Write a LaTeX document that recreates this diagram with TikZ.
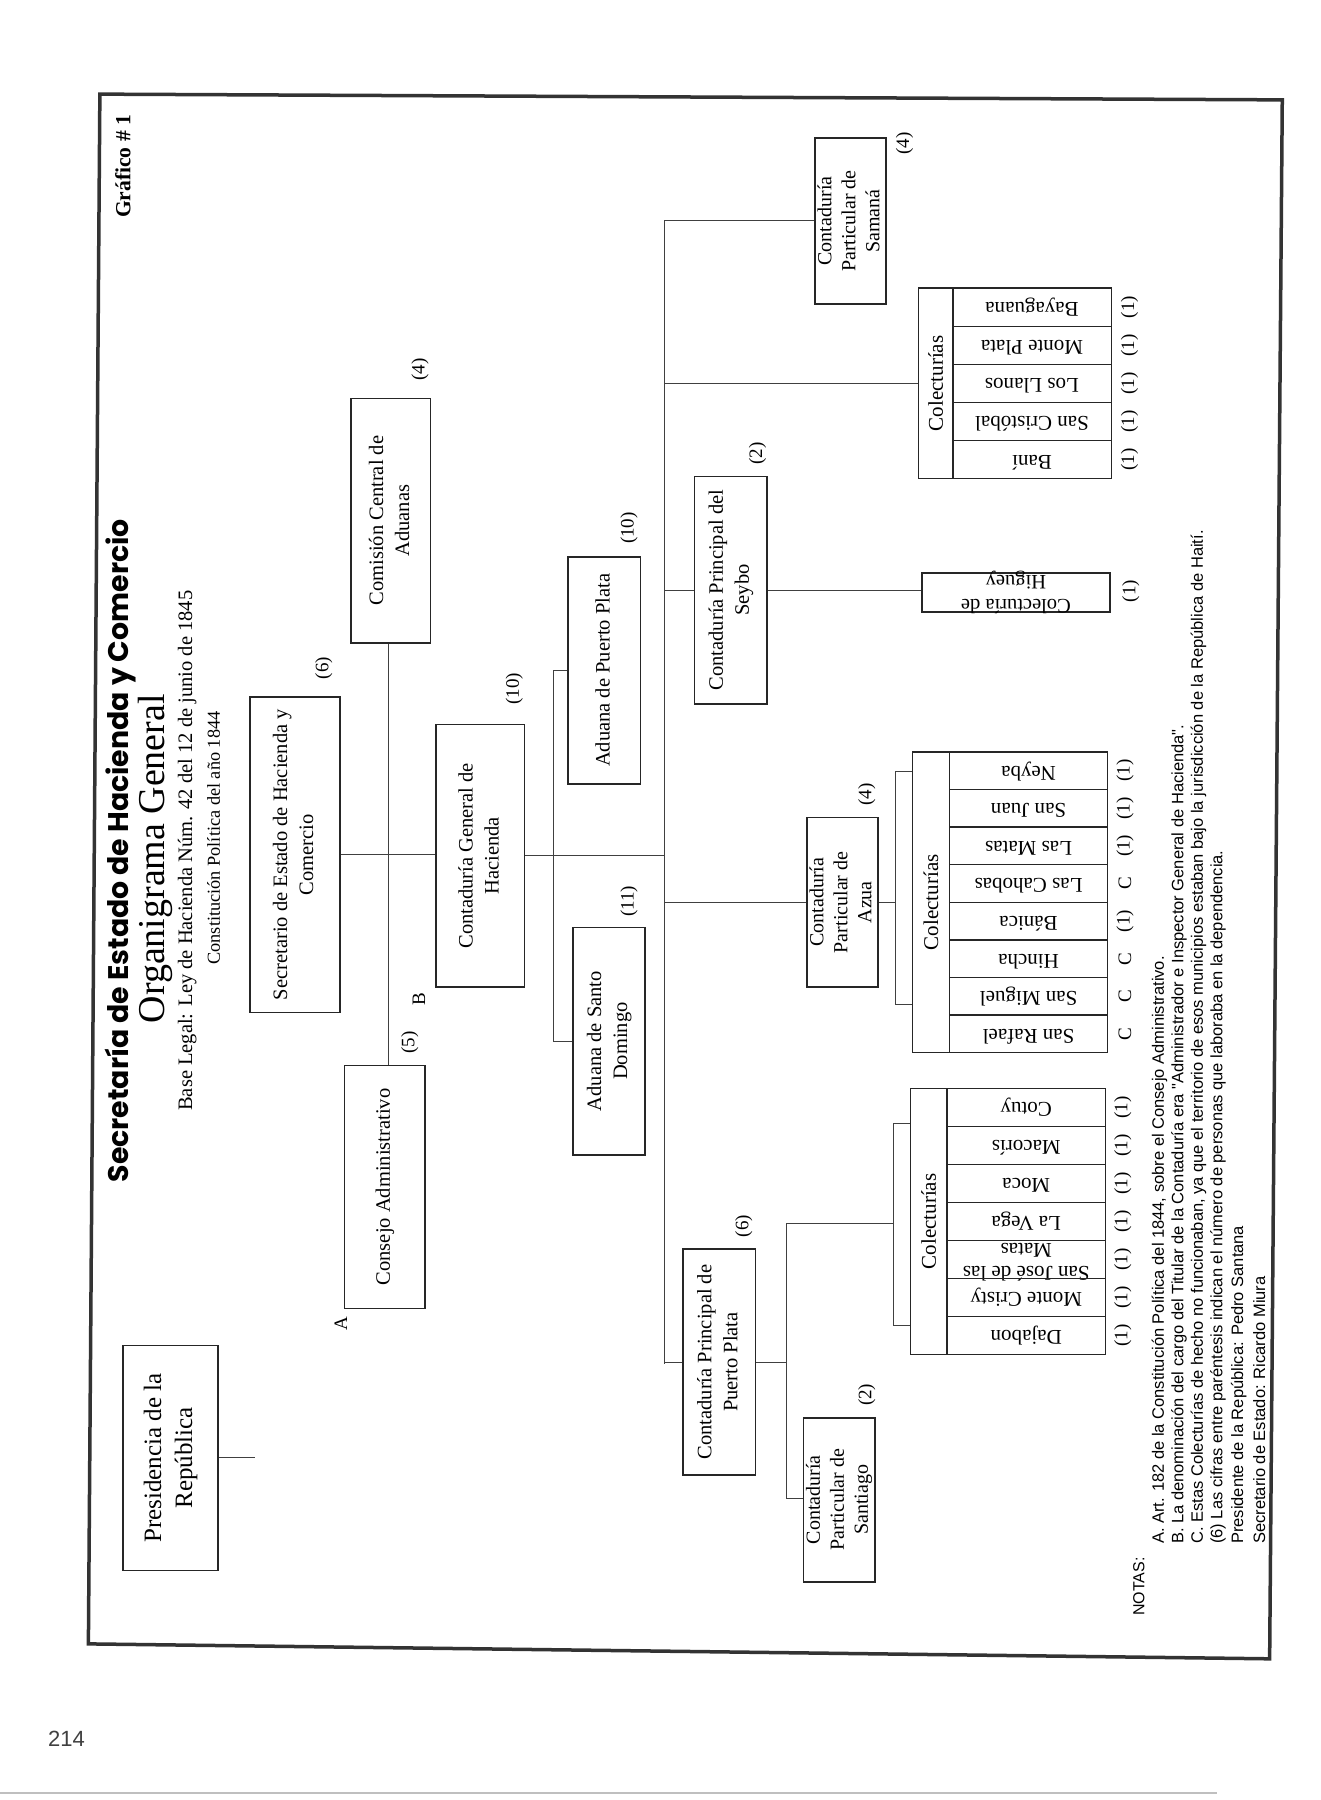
\documentclass[tikz,border=0pt]{standalone}
\usepackage{fontspec}
\setmainfont{Liberation Serif}
\newfontfamily\notefont{Liberation Sans}
\newfontfamily\gothic{Poppins}
\usetikzlibrary{fit}
\newcommand{\rtx}[1]{\rotatebox{90}{\begin{tabular}{@{}c@{}}#1\end{tabular}}}
\newcommand{\rfl}[1]{\rotatebox{180}{\begin{tabular}{@{}c@{}}#1\end{tabular}}}
\tikzset{
 boxs/.style={draw=black!85, line width=1.6pt, inner sep=0pt},
 btxt/.style={inner sep=0pt, font=\fontsize{20.5}{26}\selectfont},
 cellb/.style={draw=black!85, line width=1.4pt, inner sep=0pt},
 ctxt/.style={inner sep=0pt, font=\fontsize{21}{23}\selectfont},
 conn/.style={draw=black!75, line width=1pt},
 cnt/.style={font=\fontsize{19}{20}\selectfont, inner sep=0pt},
 lab/.style={font=\fontsize{19}{20}\selectfont, inner sep=0pt},
 note/.style={font=\notefont\fontsize{16.5}{19}\selectfont, inner sep=0pt, anchor=west, rotate=90},
}
% box with rotated text: name, x1, y1, x2, y2, text style, text
\newcommand{\bx}[7]{%
  \node[boxs, fit={(#2,#3) (#4,#5)}] (#1) {};
  \node[btxt, #6] (#1-t) at (#1.center) {\rtx{#7}};
}
\begin{document}
\begin{tikzpicture}[x=1.1478pt,y=-1.1478pt]
\useasboundingbox (0,0) rectangle (1150,1568);
\fill[white] (0,0) rectangle (1150,1568);
% scan edge
\draw[black!25, line width=1.5pt] (0,1562) -- (1060,1562);
% frame
\draw[black!80, line width=3.5pt, line join=miter] (87,82) -- (1117,87) -- (1106,1445) -- (77,1432) -- cycle;
% titles
\node[inner sep=0pt] (t1) at (105,741) {\rotatebox{90}{\resizebox{663pt}{!}{\gothic\bfseries Secretaría de Estado de Hacienda y Comercio}}};
\node[inner sep=0pt] (t2) at (135,748) {\rotatebox{90}{\resizebox{329pt}{!}{Organigrama General}}};
\node[inner sep=0pt] (t3) at (163,741) {\rotatebox{90}{\resizebox{520pt}{!}{Base Legal: Ley de Hacienda Núm. 42 del 12 de junio de 1845}}};
\node[inner sep=0pt] (t4) at (186,730) {\rotatebox{90}{\resizebox{253pt}{!}{Constitución Política del año 1844}}};
\node[inner sep=0pt] (graf) at (107,145) {\rotatebox{90}{\resizebox{103pt}{!}{\bfseries Gráfico \# 1}}};
% boxes
\bx{pres}{107}{1172}{190}{1368}{font=\fontsize{25}{31}\selectfont}{Presidencia de la\\República}
\bx{consejo}{300}{928}{370}{1140}{}{Consejo Administrativo}
\bx{secr}{218}{607}{296}{882}{}{Secretario de Estado de Hacienda y\\Comercio}
\bx{comision}{306}{347}{375}{560}{}{Comisión Central de\\Aduanas}
\bx{cgh}{380}{631}{457}{860}{}{Contaduría General de\\Hacienda}
\bx{adpp}{495}{485}{558}{683}{}{Aduana de Puerto Plata}
\bx{adsd}{499}{808}{562}{1006}{}{Aduana de Santo\\Domingo}
\bx{seybo}{605}{415}{668}{613}{}{Contaduría Principal del\\Seybo}
\bx{samana}{710}{120}{772}{265}{font=\fontsize{20}{24}\selectfont}{Contaduría\\Particular de\\Samaná}
\bx{azua}{703}{712}{765}{860}{font=\fontsize{20}{24}\selectfont}{Contaduría\\Particular de\\Azua}
\bx{cppp}{595}{1088}{658}{1285}{}{Contaduría Principal de\\Puerto Plata}
\bx{santiago}{700}{1235}{762}{1378}{font=\fontsize{20}{24}\selectfont}{Contaduría\\Particular de\\Santiago}
\node[boxs, fit={(803,499) (967,533)}] (higuey) {};
\node[ctxt, font=\fontsize{20.5}{24}\selectfont] (higuey-t) at (higuey.center) {\rfl{Colecturía de\\Higuey}};
% colecturias Bani
\node[cellb, fit={(800,251) (830,417)}] (baniL) {};
\node[ctxt, font=\fontsize{21}{22}\selectfont] (baniL-t) at (baniL.center) {\rotatebox{90}{Colecturías}};
\foreach \t [count=\i] in {Bayaguana, Monte Plata, Los Llanos, San Cristóbal, Baní} {
  \pgfmathsetmacro\ya{251+(\i-1)*33.2}
  \pgfmathsetmacro\yb{251+\i*33.2}
  \pgfmathsetmacro\yc{251+(\i-0.5)*33.2}
  \node[cellb, fit={(830,\ya) (968,\yb)}] (bani\i) {};
  \node[ctxt] (bani\i-t) at (bani\i.center) {\rfl{\t}};
  \node[cnt] (banic\i) at (984,\yc) {\rotatebox{90}{(1)}};
}
% colecturias Azua
\node[cellb, fit={(795,655) (827,917)}] (azuaL) {};
\node[ctxt, font=\fontsize{21}{22}\selectfont] (azuaL-t) at (azuaL.center) {\rotatebox{90}{Colecturías}};
\foreach \t/\c [count=\i] in {Neyba/(1), San Juan/(1), Las Matas/(1), Las Cahobas/C, Bánica/(1), Hincha/C, San Miguel/C, San Rafael/C} {
  \pgfmathsetmacro\ya{655+(\i-1)*32.75}
  \pgfmathsetmacro\yb{655+\i*32.75}
  \pgfmathsetmacro\yc{655+(\i-0.5)*32.75}
  \node[cellb, fit={(827,\ya) (965,\yb)}] (azc\i) {};
  \node[ctxt] (azc\i-t) at (azc\i.center) {\rfl{\t}};
  \node[cnt] (azcc\i) at (980,\yc) {\rotatebox{90}{\c}};
}
% colecturias Puerto Plata
\node[cellb, fit={(793,948) (825,1180)}] (ppL) {};
\node[ctxt, font=\fontsize{21}{22}\selectfont] (ppL-t) at (ppL.center) {\rotatebox{90}{Colecturías}};
\foreach \t [count=\i] in {Cotuy, Macorís, Moca, La Vega, {San José de las\\Matas}, Monte Cristy, Dajabon} {
  \pgfmathsetmacro\ya{948+(\i-1)*33.14}
  \pgfmathsetmacro\yb{948+\i*33.14}
  \pgfmathsetmacro\yc{948+(\i-0.5)*33.14}
  \node[cellb, fit={(825,\ya) (963,\yb)}] (ppc\i) {};
  \node[ctxt] (ppc\i-t) at (ppc\i.center) {\rfl{\t}};
  \node[cnt] (ppcc\i) at (978,\yc) {\rotatebox{90}{(1)}};
}
% labels
\node[lab] (l1) at (282,582) {\rotatebox{90}{(6)}};
\node[lab] (l2) at (366,322) {\rotatebox{90}{(4)}};
\node[lab] (l3) at (448,600) {\rotatebox{90}{(10)}};
\node[lab] (l4) at (548,460) {\rotatebox{90}{(10)}};
\node[lab] (l5) at (548,785) {\rotatebox{90}{(11)}};
\node[lab] (l6) at (357,908) {\rotatebox{90}{(5)}};
\node[lab] (lB) at (365,870) {\rotatebox{90}{B}};
\node[lab] (lA) at (297,1153) {\rotatebox{90}{A}};
\node[lab] (l7) at (660,395) {\rotatebox{90}{(2)}};
\node[lab] (l8) at (788,125) {\rotatebox{90}{(4)}};
\node[lab] (l9) at (755,692) {\rotatebox{90}{(4)}};
\node[lab] (l10) at (648,1068) {\rotatebox{90}{(6)}};
\node[lab] (l11) at (755,1215) {\rotatebox{90}{(2)}};
\node[lab] (l12) at (985,515) {\rotatebox{90}{(1)}};
% coordinates
\coordinate (trT) at (579,192);
\coordinate (trB) at (579,1188);
\coordinate (adx) at (482,0);
\coordinate (cx) at (338,0);
\coordinate (presE) at (222,0);
\coordinate (azx) at (780,0);
\coordinate (azT) at (780,672);
\coordinate (azB) at (780,875);
\coordinate (ppx) at (685,0);
\coordinate (ppT) at (685,1066);
\coordinate (ppB) at (685,1305);
\coordinate (pbT) at (778,979);
\coordinate (pbB) at (778,1155);
% connectors
\draw[conn] (pres.east) -- (pres.east -| presE);
\draw[conn] (secr.east) -- (secr.east -| cgh.west);
\draw[conn] (comision.south -| cx) -- (consejo.north -| cx);
\draw[conn] (cgh.east) -- (cgh.east -| trT);
\draw[conn] (adpp.west) -- (adpp.west -| adx) -- (adsd.west -| adx) -- (adsd.west);
\draw[conn] (trT) -- (trB);
\draw[conn] (samana.west -| trT) -- (samana.west);
\draw[conn] (baniL.west -| trT) -- (baniL.west);
\draw[conn] (seybo.west -| trT) -- (seybo.west);
\draw[conn] (azua.west -| trT) -- (azua.west);
\draw[conn] (cppp.west -| trT) -- (cppp.west);
\draw[conn] (seybo.east) -- (seybo.east -| higuey.west);
\draw[conn] (azua.east) -- (azua.east -| azx);
\draw[conn] (azT -| azuaL.west) -- (azT) -- (azB) -- (azB -| azuaL.west);
\draw[conn] (cppp.east) -- (cppp.east -| ppx);
\draw[conn] (ppT) -- (ppB) -- (ppB -| santiago.west);
\draw[conn] (ppT) -- (ppT -| pbT);
\draw[conn] (pbT -| ppL.west) -- (pbT) -- (pbB) -- (pbB -| ppL.west);
% notes
\node[note, font=\notefont\fontsize{16}{18}\selectfont, anchor=center] (notas) at (992,1382) {NOTAS:};
\node[note] (nA) at (1010,1345) {A. Art. 182 de la Constitución Política del 1844, sobre el Consejo Administrativo.};
\node[note] (nB) at (1027,1345) {B. La denominación del cargo del Titular de la Contaduría era "Administrador e Inspector General de Hacienda".};
\node[note] (nC) at (1044,1345) {C. Estas Colecturías de hecho no funcionaban, ya que el territorio de esos municipios estaban bajo la jurisdicción de la República de Haití.};
\node[note] (n6) at (1061,1345) {(6) Las cifras entre paréntesis indican el número de personas que laboraba en la dependencia.};
\node[note] (nP) at (1079,1345) {Presidente de la República: Pedro Santana};
\node[note] (nS) at (1097,1345) {Secretario de Estado: Ricardo Miura};
% page number
\node[font=\notefont\fontsize{22}{24}\selectfont, text=black!75, inner sep=0pt] (pg) at (58,1515) {214};
\end{tikzpicture}
\end{document}
